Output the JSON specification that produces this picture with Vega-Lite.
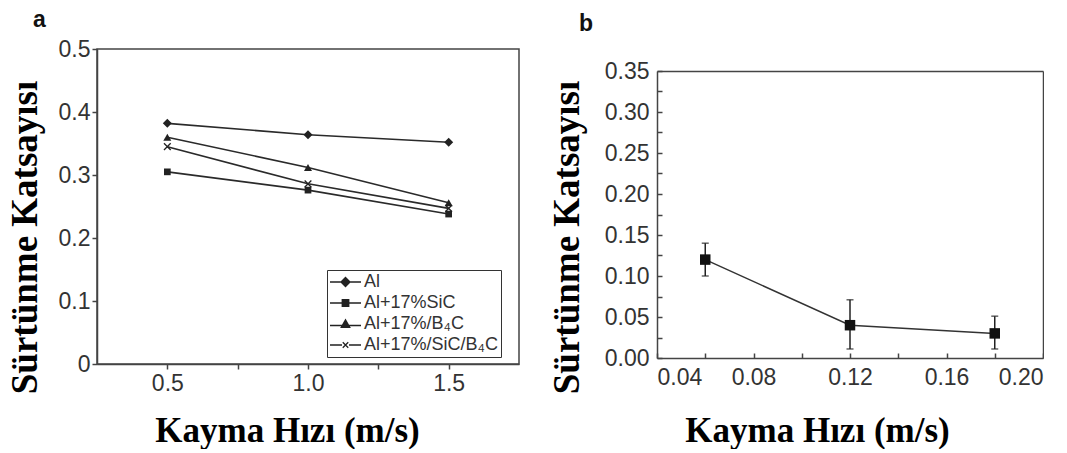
{
  "$schema": "https://vega.github.io/schema/vega-lite/v6.json",
  "background": "white",
  "padding": {"left": 5, "top": 8, "right": 0, "bottom": 0},
  "spacing": 28,
  "datasets": {
    "a": [
      {"v": 0.5, "mu": 0.382, "series": "Al"},
      {"v": 1.0, "mu": 0.364, "series": "Al"},
      {"v": 1.5, "mu": 0.352, "series": "Al"},
      {"v": 0.5, "mu": 0.305, "series": "Al+17%SiC"},
      {"v": 1.0, "mu": 0.276, "series": "Al+17%SiC"},
      {"v": 1.5, "mu": 0.238, "series": "Al+17%SiC"},
      {"v": 0.5, "mu": 0.360, "series": "Al+17%/B₄C"},
      {"v": 1.0, "mu": 0.312, "series": "Al+17%/B₄C"},
      {"v": 1.5, "mu": 0.256, "series": "Al+17%/B₄C"},
      {"v": 0.5, "mu": 0.345, "series": "Al+17%/SiC/B₄C"},
      {"v": 1.0, "mu": 0.286, "series": "Al+17%/SiC/B₄C"},
      {"v": 1.5, "mu": 0.247, "series": "Al+17%/SiC/B₄C"}
    ],
    "b": [
      {"v": 0.06, "mu": 0.12, "lo": 0.100, "hi": 0.140},
      {"v": 0.12, "mu": 0.04, "lo": 0.011, "hi": 0.071},
      {"v": 0.18, "mu": 0.03, "lo": 0.011, "hi": 0.051}
    ]
  },
  "hconcat": [
    {
      "width": 422,
      "height": 315,
      "data": {"name": "a"},
      "title": {"text": "a", "anchor": "start", "frame": "group", "dx": -64, "offset": -12, "baseline": "alphabetic", "fontSize": 23, "fontWeight": "bold", "font": "Liberation Sans", "color": "#111"},
      "layer": [
        {
          "mark": {"type": "line", "color": "#2a2a2a", "strokeWidth": 1.6},
          "encoding": {
            "x": {"field": "v", "type": "quantitative",
              "scale": {"domain": [0.25, 1.75], "nice": false, "zero": false},
              "axis": {"values": [0.5, 0.75, 1, 1.25, 1.5],
                "labelExpr": "(datum.value == 0.5 || datum.value == 1 || datum.value == 1.5) ? format(datum.value, '.1f') : ''",
                "tickSize": 5, "labelPadding": 3, "labelFontSize": 23, "labelFont": "Liberation Sans", "labelColor": "#333",
                "domainColor": "#444", "tickColor": "#444", "domainWidth": 1.5, "tickWidth": 1.5,
                "title": "Kayma Hızı (m/s)", "titleFont": "Liberation Serif", "titleFontSize": 35, "titleFontWeight": "bold", "titleColor": "#000",
                "titleX": 190, "titleY": 77, "titleBaseline": "alphabetic", "titleAlign": "center"}},
            "y": {"field": "mu", "type": "quantitative",
              "scale": {"domain": [0, 0.5], "nice": false, "zero": false},
              "axis": {"values": [0, 0.1, 0.2, 0.3, 0.4, 0.5],
                "labelExpr": "datum.value == 0 ? '0' : format(datum.value, '.1f')",
                "tickSize": 5, "labelPadding": 2, "labelFontSize": 23, "labelFont": "Liberation Sans", "labelColor": "#333",
                "domainColor": "#444", "tickColor": "#444", "domainWidth": 1.5, "tickWidth": 1.5,
                "title": "Sürtünme  Katsayısı", "titleFont": "Liberation Serif", "titleFontSize": 37, "titleFontWeight": "bold", "titleColor": "#000",
                "titleX": -72, "titleY": 188, "titleAngle": 270, "titleBaseline": "middle", "titleAlign": "center"}},
            "detail": {"field": "series"}
          }
        },
        {
          "transform": [{"filter": "datum.series == 'Al'"}],
          "mark": {"type": "point", "shape": "diamond", "filled": true, "color": "#222", "size": 81, "opacity": 1},
          "encoding": {"x": {"field": "v", "type": "quantitative"}, "y": {"field": "mu", "type": "quantitative"}}
        },
        {
          "transform": [{"filter": "datum.series == 'Al+17%SiC'"}],
          "mark": {"type": "point", "shape": "square", "filled": true, "color": "#222", "size": 45, "opacity": 1},
          "encoding": {"x": {"field": "v", "type": "quantitative"}, "y": {"field": "mu", "type": "quantitative"}}
        },
        {
          "transform": [{"filter": "datum.series == 'Al+17%/B₄C'"}],
          "mark": {"type": "point", "shape": "triangle-up", "filled": true, "color": "#222", "size": 64, "opacity": 1},
          "encoding": {"x": {"field": "v", "type": "quantitative"}, "y": {"field": "mu", "type": "quantitative"}}
        },
        {
          "transform": [{"filter": "datum.series == 'Al+17%/SiC/B₄C'"}],
          "mark": {"type": "point", "shape": "M-1,-1L1,1M-1,1L1,-1", "filled": false, "color": "#222", "strokeWidth": 1.3, "size": 45, "opacity": 1},
          "encoding": {"x": {"field": "v", "type": "quantitative"}, "y": {"field": "mu", "type": "quantitative"}}
        },
        {
          "transform": [{"filter": "datum.v > 100"}],
          "mark": {"type": "point", "filled": false, "color": "#222", "strokeWidth": 1.3, "size": 100, "opacity": 1},
          "encoding": {
            "x": {"field": "v", "type": "quantitative"},
            "y": {"field": "mu", "type": "quantitative"},
            "shape": {"field": "series", "type": "nominal",
              "scale": {"domain": ["Al", "Al+17%SiC", "Al+17%/B₄C", "Al+17%/SiC/B₄C"],
                "range": [
                  "M-3.1,0H3.1M0,-0.9L0.9,0L0,0.9L-0.9,0ZM0,-0.65L0.65,0L0,0.65L-0.65,0ZM0,-0.4L0.4,0L0,0.4L-0.4,0ZM0,-0.15L0.15,0L0,0.15L-0.15,0Z",
                  "M-3.1,0H3.1M-0.65,-0.65H0.65V0.65H-0.65ZM-0.4,-0.4H0.4V0.4H-0.4ZM-0.15,-0.15H0.15V0.15H-0.15Z",
                  "M-3.1,0.3H3.1M0,-0.85L0.85,0.65H-0.85ZM0,-0.45L0.51,0.45H-0.51ZM0,-0.15L0.25,0.3H-0.25Z",
                  "M-3.1,0H-0.7M0.7,0H3.1M-0.55,-0.55L0.55,0.55M-0.55,0.55L0.55,-0.55"
                ]},
              "legend": {"orient": "none", "legendX": 230, "legendY": 221, "title": null,
                "strokeColor": "#333", "fillColor": "white", "padding": 3, "rowPadding": 3,
                "labelFont": "Liberation Sans", "labelFontSize": 18, "labelColor": "#333",
                "symbolSize": 100, "symbolOffset": 6.5, "labelOffset": 9.5,
                "symbolStrokeColor": "#222", "symbolStrokeWidth": 1.3, "symbolOpacity": 1}
            }
          }
        }
      ]
    },
    {
      "width": 386,
      "height": 309,
      "data": {"name": "b"},
      "view": {"stroke": null},
      "title": {"text": "b", "anchor": "start", "frame": "group", "dx": -78, "offset": -5, "baseline": "alphabetic", "fontSize": 23, "fontWeight": "bold", "font": "Liberation Sans", "color": "#111"},
      "layer": [
        {
          "mark": {"type": "line", "color": "#333", "strokeWidth": 1.5},
          "encoding": {
            "x": {"field": "v", "type": "quantitative",
              "scale": {"domain": [0.04, 0.20], "nice": false, "zero": false},
              "axis": {"values": [0.04, 0.06, 0.08, 0.10, 0.12, 0.14, 0.16, 0.18, 0.20],
                "labelExpr": "round(datum.value * 100) % 4 == 0 ? format(datum.value, '.2f') : ''",
                "tickSize": -5, "labelPadding": 13, "labelFontSize": 23, "labelFont": "Liberation Sans", "labelColor": "#333",
                "domainColor": "#444", "tickColor": "#444", "domainWidth": 1.5, "tickWidth": 1.5,
                "title": "Kayma Hızı (m/s)", "titleFont": "Liberation Serif", "titleFontSize": 35, "titleFontWeight": "bold", "titleColor": "#000",
                "titleX": 160, "titleY": 83, "titleBaseline": "alphabetic", "titleAlign": "center"}},
            "y": {"field": "mu", "type": "quantitative",
              "scale": {"domain": [0, 0.35], "nice": false, "zero": false, "range": [309, 22]},
              "axis": {"values": [0, 0.025, 0.05, 0.075, 0.1, 0.125, 0.15, 0.175, 0.2, 0.225, 0.25, 0.275, 0.3, 0.325, 0.35],
                "labelExpr": "round(datum.value * 1000) % 50 == 0 ? format(datum.value, '.2f') : ''",
                "tickSize": -5, "labelPadding": 13, "labelFontSize": 23, "labelFont": "Liberation Sans", "labelColor": "#333",
                "domainColor": "#444", "tickColor": "#444", "domainWidth": 1.5, "tickWidth": 1.5,
                "title": "Sürtünme  Katsayısı", "titleFont": "Liberation Serif", "titleFontSize": 37, "titleFontWeight": "bold", "titleColor": "#000",
                "titleX": -90, "titleY": 188, "titleAngle": 270, "titleBaseline": "middle", "titleAlign": "center"}}
          }
        },
        {
          "mark": {"type": "rule", "color": "#222", "strokeWidth": 1.5},
          "encoding": {
            "x": {"field": "v", "type": "quantitative", "axis": null},
            "y": {"field": "lo", "type": "quantitative", "axis": null},
            "y2": {"field": "hi"}
          }
        },
        {
          "mark": {"type": "tick", "orient": "horizontal", "color": "#222", "size": 7, "thickness": 1.5},
          "encoding": {
            "x": {"field": "v", "type": "quantitative", "axis": null},
            "y": {"field": "hi", "type": "quantitative", "axis": null}
          }
        },
        {
          "mark": {"type": "tick", "orient": "horizontal", "color": "#222", "size": 7, "thickness": 1.5},
          "encoding": {
            "x": {"field": "v", "type": "quantitative", "axis": null},
            "y": {"field": "lo", "type": "quantitative", "axis": null}
          }
        },
        {
          "mark": {"type": "point", "shape": "square", "filled": true, "color": "#111", "size": 110, "opacity": 1},
          "encoding": {
            "x": {"field": "v", "type": "quantitative", "axis": null},
            "y": {"field": "mu", "type": "quantitative", "axis": null}
          }
        },
        {
          "mark": {"type": "line", "opacity": 0},
          "encoding": {
            "x": {"field": "v", "type": "quantitative",
              "axis": {"orient": "top", "offset": -22, "labels": false, "ticks": false, "title": null, "domainColor": "#444", "domainWidth": 1.5}},
            "y": {"field": "mu", "type": "quantitative",
              "axis": {"orient": "right", "labels": false, "ticks": false, "title": null, "domainColor": "#444", "domainWidth": 1.5}}
          }
        }
      ],
      "resolve": {"axis": {"x": "independent", "y": "independent"}}
    }
  ],
  "config": {
    "view": {"stroke": "#444", "strokeWidth": 1.5},
    "axis": {"grid": false},
    "font": "Liberation Sans"
  }
}
